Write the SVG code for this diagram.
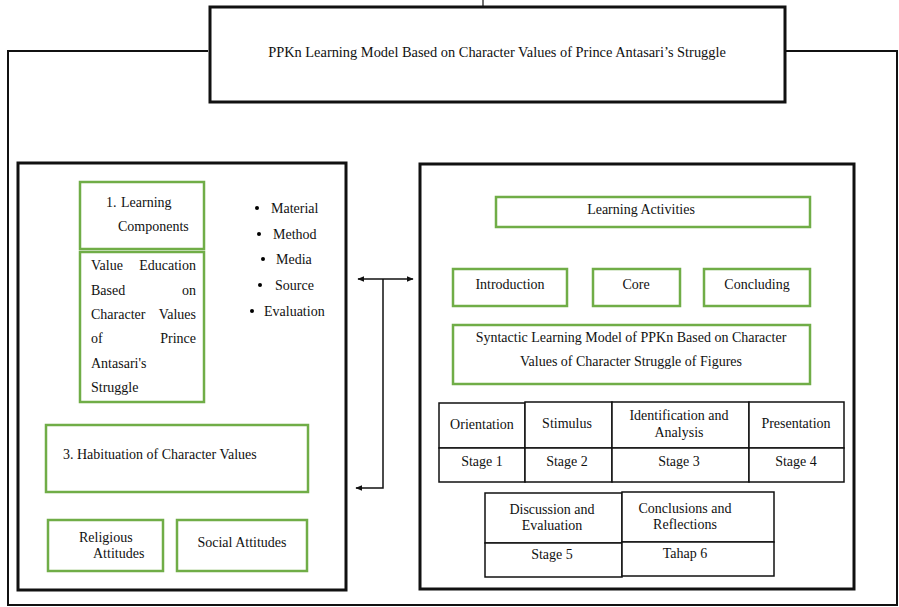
<svg xmlns="http://www.w3.org/2000/svg" width="899" height="607" viewBox="0 0 899 607">
<style>
text{font-family:"Liberation Serif","Times New Roman",serif;font-size:14px;fill:#111;}
.c{text-anchor:middle;}
.r{text-anchor:end;}
.g{fill:#fff;stroke:#70AD47;stroke-width:2.5;}
.p{fill:#fff;stroke:#111;stroke-width:3;}
.t{fill:#fff;stroke:#111;stroke-width:1.5;}
.ln{fill:none;stroke:#111;stroke-width:1.5;}
</style>
<defs>
<marker id="ah" viewBox="0 0 10 10" refX="9" refY="5" markerWidth="7" markerHeight="7" orient="auto-start-reverse" markerUnits="userSpaceOnUse">
<path d="M0,1 L10,5 L0,9 z" fill="#111"/>
</marker>
</defs>
<rect width="899" height="607" fill="#fff"/>

<g id="connectors">
<path d="M208,51 H8 V605 H897 V51 H786" fill="none" stroke="#111" stroke-width="2"/>
<line x1="483" y1="0" x2="483" y2="7" stroke="#111" stroke-width="1.2"/>
<line x1="358" y1="279" x2="413" y2="279" class="ln" marker-start="url(#ah)" marker-end="url(#ah)"/>
<path d="M383,279 V488 H356" class="ln" marker-end="url(#ah)"/>
</g>

<g id="title">
<rect x="210" y="7" width="575" height="95" class="p"/>
<text x="497" y="57" class="c" style="font-size:14.4px">PPKn Learning Model Based on Character Values of Prince Antasari’s Struggle</text>
</g>

<g id="left-panel">
<rect x="18" y="163" width="328" height="427" class="p"/>
</g>

<g id="learning-components">
<rect x="80" y="182" width="124" height="67" class="g"/>
<text x="106" y="207">1.</text>
<text x="121" y="207">Learning</text>
<text x="118" y="231">Components</text>
</g>

<g id="value-education">
<rect x="80" y="252" width="124" height="150" class="g"/>
<text x="91" y="270">Value</text>
<text x="196" y="270" class="r">Education</text>
<text x="91" y="295">Based</text>
<text x="196" y="295" class="r">on</text>
<text x="91" y="319">Character</text>
<text x="196" y="319" class="r">Values</text>
<text x="91" y="343">of</text>
<text x="196" y="343" class="r">Prince</text>
<text x="91" y="368">Antasari's</text>
<text x="91" y="392">Struggle</text>
</g>

<g id="components-list">
<circle cx="257" cy="208" r="2"/>
<text x="271" y="213">Material</text>
<circle cx="259" cy="234" r="2"/>
<text x="273" y="239">Method</text>
<circle cx="263" cy="259" r="2"/>
<text x="276" y="264">Media</text>
<circle cx="260" cy="285" r="2"/>
<text x="275" y="290">Source</text>
<circle cx="252" cy="311" r="2"/>
<text x="264" y="316">Evaluation</text>
</g>

<g id="habituation">
<rect x="46" y="425" width="262" height="67" class="g"/>
<text x="63" y="459">3. Habituation of Character Values</text>
</g>

<g id="religious">
<rect x="48" y="520" width="115" height="51" class="g"/>
<text x="79" y="542">Religious</text>
<text x="93" y="558">Attitudes</text>
</g>

<g id="social">
<rect x="177" y="520" width="130" height="51" class="g"/>
<text x="242" y="547" class="c">Social Attitudes</text>
</g>

<g id="right-panel">
<rect x="420" y="164" width="434" height="425" class="p"/>
</g>

<g id="learning-activities">
<rect x="496" y="197" width="314" height="30" class="g"/>
<text x="641" y="214" class="c">Learning Activities</text>
</g>

<g id="introduction">
<rect x="453" y="269" width="114" height="37" class="g"/>
<text x="510" y="289" class="c">Introduction</text>
</g>

<g id="core">
<rect x="593" y="269" width="87" height="37" class="g"/>
<text x="636" y="289" class="c">Core</text>
</g>

<g id="concluding">
<rect x="704" y="269" width="106" height="37" class="g"/>
<text x="757" y="289" class="c">Concluding</text>
</g>

<g id="syntactic">
<rect x="453" y="325" width="357" height="59" class="g"/>
<text x="631" y="342" class="c">Syntactic Learning Model of PPKn Based on Character</text>
<text x="631" y="366" class="c">Values of Character Struggle of Figures</text>
</g>

<g id="stage1">
<rect x="439" y="403" width="86" height="45" class="t"/>
<rect x="439" y="448" width="86" height="34" class="t"/>
<text x="482" y="429" class="c">Orientation</text>
<text x="482" y="466" class="c">Stage 1</text>
</g>

<g id="stage2">
<rect x="525" y="402" width="87" height="46" class="t"/>
<rect x="525" y="448" width="87" height="34" class="t"/>
<text x="567" y="428" class="c">Stimulus</text>
<text x="567" y="466" class="c">Stage 2</text>
</g>

<g id="stage3">
<rect x="612" y="402" width="137" height="46" class="t"/>
<rect x="612" y="448" width="137" height="34" class="t"/>
<text x="679" y="420" class="c">Identification and</text>
<text x="679" y="437" class="c">Analysis</text>
<text x="679" y="466" class="c">Stage 3</text>
</g>

<g id="stage4">
<rect x="749" y="402" width="95" height="46" class="t"/>
<rect x="749" y="448" width="95" height="34" class="t"/>
<text x="796" y="428" class="c">Presentation</text>
<text x="796" y="466" class="c">Stage 4</text>
</g>

<g id="stage5">
<rect x="485" y="493" width="137" height="50" class="t"/>
<rect x="485" y="543" width="137" height="34" class="t"/>
<text x="552" y="514" class="c">Discussion and</text>
<text x="552" y="530" class="c">Evaluation</text>
<text x="552" y="559" class="c">Stage 5</text>
</g>

<g id="stage6">
<rect x="622" y="492" width="152" height="50" class="t"/>
<rect x="622" y="542" width="152" height="34" class="t"/>
<text x="685" y="513" class="c">Conclusions and</text>
<text x="685" y="529" class="c">Reflections</text>
<text x="685" y="558" class="c">Tahap 6</text>
</g>
</svg>
